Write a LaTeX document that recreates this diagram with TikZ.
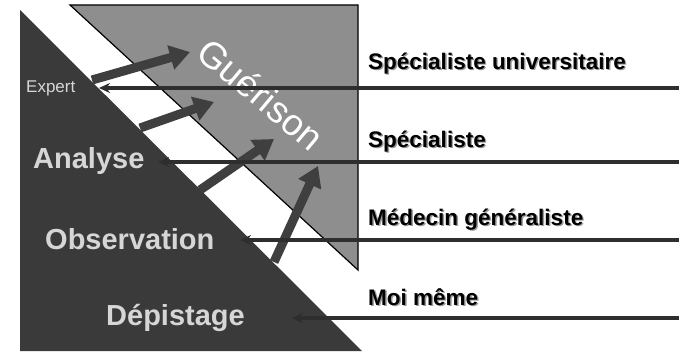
\documentclass[tikz,border=0pt]{standalone}
\usepackage{fontspec}
\setmainfont{Liberation Sans}
\usetikzlibrary{arrows.meta}
\definecolor{darkfill}{HTML}{3A3A3A}
\definecolor{grayfill}{HTML}{8E8E8E}
\definecolor{arrowcol}{HTML}{3F3F3F}
\definecolor{lighttext}{HTML}{D6D6D6}
\definecolor{linecol}{HTML}{2E2E2E}
\definecolor{shadowcol}{HTML}{9A9A9A}
\newcommand\shtext[1]{\rlap{\hspace{1.4pt}\raisebox{-1.4pt}{\color{shadowcol}#1}}#1}
\tikzset{
  bigarrow/.style={draw=arrowcol, line width=9pt, -{Triangle[length=20pt,width=24pt]}},
  hline/.style={draw=linecol, line width=3.4pt, -{Stealth[length=11pt,width=10pt]}},
  leftlab/.style={text=lighttext, font=\bfseries\fontsize{29}{31}\selectfont, inner sep=0pt},
  rightlab/.style={text=black, font=\bfseries\fontsize{22.5}{24}\selectfont, anchor=west, inner sep=0pt},
}
\begin{document}
\begin{tikzpicture}[x=1pt,y=-1pt]
\useasboundingbox[fill=white] (0,0) rectangle (679,353);
% triangles
\fill[darkfill] (20,10) -- (20,351) -- (362,351) -- cycle;
\filldraw[fill=grayfill, draw=black, line width=1.2pt] (70,5) -- (358,5) -- (358,270) -- cycle;
% thick arrows
\coordinate (a1s) at (92,80);  \coordinate (a1e) at (190,52);
\coordinate (a2s) at (140,128); \coordinate (a2e) at (214,102);
\coordinate (a3s) at (200,190); \coordinate (a3e) at (274,139);
\coordinate (a4s) at (274,262); \coordinate (a4e) at (318,166);
\draw[bigarrow] (a1s) -- (a1e);
\draw[bigarrow] (a2s) -- (a2e);
\draw[bigarrow] (a3s) -- (a3e);
\draw[bigarrow] (a4s) -- (a4e);
% Guerison
\node[text=white, rotate=-40, font=\fontsize{37}{39}\selectfont, inner sep=0pt] (gue) at (261,94) {Guérison};
% left labels
\node[text=lighttext, font=\fontsize{17}{19}\selectfont, inner sep=0pt, anchor=west] (expert) at (26,88) {Expert};
\node[leftlab, anchor=west] (analyse) at (33,161) {Analyse};
\node[leftlab, anchor=west] (observation) at (45,239) {Observation};
\node[leftlab, anchor=west] (depistage) at (106,318) {Dépistage};
% right labels
\node[rightlab] (su) at (368,64) {\shtext{Spécialiste universitaire}};
\node[rightlab] (sp) at (368,142) {\shtext{Spécialiste}};
\node[rightlab] (mg) at (368,220) {\shtext{Médecin généraliste}};
\node[rightlab] (mm) at (368,298) {\shtext{Moi même}};
% horizontal lines
\coordinate (r1) at (679,88);  \coordinate (t1) at (99,88);
\coordinate (r2) at (679,162); \coordinate (t2) at (158,162);
\coordinate (r3) at (679,240); \coordinate (t3) at (240,240);
\coordinate (r4) at (679,318); \coordinate (t4) at (292,318);
\draw[hline] (r1) -- (t1);
\draw[hline] (r2) -- (t2);
\draw[hline] (r3) -- (t3);
\draw[hline] (r4) -- (t4);
\end{tikzpicture}
\end{document}
